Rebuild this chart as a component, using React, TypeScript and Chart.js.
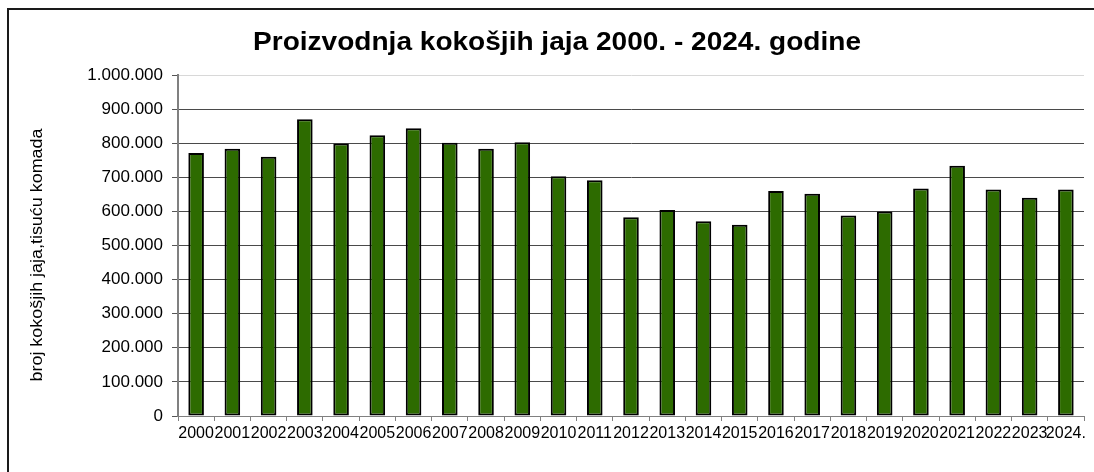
import React, { useEffect, useRef } from "react";
import { Chart, registerables } from "chart.js";

Chart.register(...registerables);

const TITLE = "Proizvodnja kokošjih jaja 2000. - 2024. godine";
const Y_LABEL = "broj kokošjih jaja,tisuću komada";

const years = [
  "2000", "2001", "2002", "2003", "2004", "2005", "2006", "2007", "2008", "2009",
  "2010", "2011", "2012", "2013", "2014", "2015", "2016", "2017", "2018", "2019",
  "2020", "2021", "2022", "2023", "2024.",
];

const production = [
  771000, 784000, 760000, 870000, 799000, 823000, 844000, 801000, 784000, 803000,
  703000, 691000, 583000, 604000, 571000, 561000, 660000, 652000, 588000, 600000,
  667000, 734000, 664000, 640000, 664000,
];

const Y_MIN = 0;
const Y_MAX = 1000000;
const Y_STEP = 100000;

const FONT = "'Liberation Sans', Arial, sans-serif";

function fmt(v: number): string {
  return String(Math.round(v)).replace(/\B(?=(\d{3})+(?!\d))/g, ".");
}

const textPlugin = {
  id: "customTexts",
  afterDraw(chart: any) {
    const ctx = chart.ctx;
    // chart title
    ctx.save();
    ctx.translate(557, 50);
    ctx.scale(1.1, 1);
    ctx.font = `bold 25.5px ${FONT}`;
    ctx.fillStyle = "#000";
    ctx.textAlign = "center";
    ctx.textBaseline = "alphabetic";
    ctx.fillText(TITLE, 0, 0);
    ctx.restore();
    // y axis title
    ctx.save();
    ctx.translate(38, 255);
    ctx.rotate(-Math.PI / 2);
    ctx.scale(1.12, 1);
    ctx.font = `16px ${FONT}`;
    ctx.fillStyle = "#000";
    ctx.textAlign = "center";
    ctx.textBaseline = "middle";
    ctx.fillText(Y_LABEL, 0, 0);
    ctx.restore();
  },
};

export default function App() {
  const ref = useRef<HTMLCanvasElement | null>(null);

  useEffect(() => {
    document.body.style.overflow = "hidden";
    const canvas = ref.current;
    if (!canvas) return;
    const chart = new Chart(canvas, {
      type: "bar",
      data: {
        labels: years,
        datasets: [
          {
            label: "Proizvodnja",
            data: production,
            backgroundColor: "#2d6b00",
            borderColor: "#000000",
            borderWidth: 2,
            borderSkipped: false,
            barPercentage: 0.43,
            categoryPercentage: 1,
          },
        ],
      },
      options: {
        animation: false,
        responsive: true,
        maintainAspectRatio: false,
        layout: { padding: { left: 0, right: 10, top: 75, bottom: 0 } },
        plugins: {
          legend: { display: false },
          tooltip: { enabled: false },
          title: { display: false },
        },
        scales: {
          x: {
            offset: true,
            grid: {
              display: true,
              drawOnChartArea: true,
              offset: true,
              color: (c: any) => (c.index === years.length ? "#d8d8d8" : "rgba(0,0,0,0)"),
              tickColor: "#808080",
              tickLength: 5,
              lineWidth: 1,
            },
            border: { display: true, color: "#808080", width: 1 },
            ticks: {
              color: "#000",
              font: { family: FONT, size: 16 },
              autoSkip: false,
              maxRotation: 0,
              minRotation: 0,
              padding: 3,
            },
            afterFit: (s: any) => {
              s.height = 56;
            },
          },
          y: {
            min: Y_MIN,
            max: Y_MAX,
            ticks: {
              stepSize: Y_STEP,
              color: "#000",
              font: { family: FONT, size: 17 },
              padding: 9,
              callback: (v: any) => fmt(Number(v)),
            },
            grid: {
              color: (c: any) => (c.tick && c.tick.value === Y_MAX ? "#d8d8d8" : "#4a4a4a"),
              tickColor: "#555555",
              tickLength: 6,
              lineWidth: 1,
            },
            border: { display: true, color: "#808080", width: 2 },
            afterFit: (s: any) => {
              s.width = 178;
            },
          },
        },
      },
      plugins: [textPlugin],
    });
    return () => chart.destroy();
  }, []);

  return (
    <div style={{ position: "absolute", left: 0, top: 0, width: 1094, height: 472, background: "#fff" }}>
      <canvas ref={ref} />
      <div
        style={{
          position: "absolute",
          left: 7,
          top: 8,
          width: 1087,
          height: 464,
          borderLeft: "2px solid #1a1a1a",
          borderTop: "2px solid #1a1a1a",
          boxSizing: "border-box",
          pointerEvents: "none",
        }}
      />
    </div>
  );
}
